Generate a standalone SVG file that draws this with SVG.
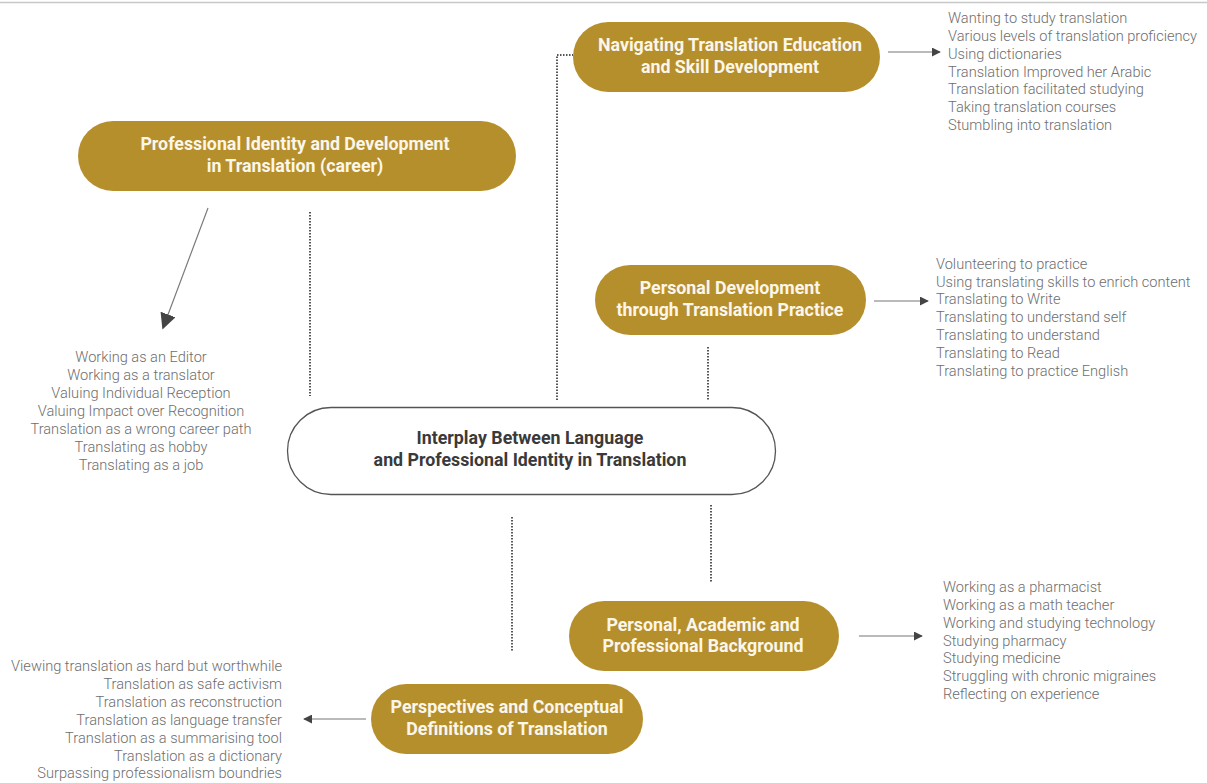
<svg xmlns="http://www.w3.org/2000/svg" width="1207" height="783" viewBox="0 0 1207 783">
<style>
.pill{fill:#b68f2d}
.pt{font-family:Roboto,"Liberation Sans",sans-serif;font-weight:bold;font-size:17.8px;fill:#fbf6ea;text-anchor:middle}
.ct{font-family:Roboto,"Liberation Sans",sans-serif;font-weight:bold;font-size:17.8px;fill:#3a3a3a;text-anchor:middle}
.lst{font-family:Roboto,"Liberation Sans",sans-serif;font-weight:300;font-size:14.6px;fill:#6e6e6e}
.dot{stroke:#555;stroke-width:2;stroke-dasharray:1.5 1.5;fill:none}
.arr{stroke:#777;stroke-width:1.2;fill:none;marker-end:url(#ah)}
</style>
<defs>
<marker id="ah" viewBox="0 0 10 10" refX="9" refY="5" markerWidth="9" markerHeight="9" markerUnits="userSpaceOnUse" orient="auto">
<path d="M0,0 L10,5 L0,10 z" fill="#444"/>
</marker>
<marker id="ahb" viewBox="0 0 10 10" refX="9" refY="5" markerWidth="16" markerHeight="16" markerUnits="userSpaceOnUse" orient="auto">
<path d="M0,0 L10,5 L0,10 z" fill="#444"/>
</marker>
</defs>
<rect width="1207" height="783" fill="#fff"/>
<line x1="0" y1="2.5" x2="1207" y2="2.5" stroke="#c8c8c8" stroke-width="1.5"/>
<g id="connectors">
<polyline class="dot" points="557,400 557,55 573,55"/>
<line class="dot" x1="310" y1="212" x2="310" y2="396"/>
<line class="dot" x1="708" y1="347" x2="708" y2="400"/>
<line class="dot" x1="512" y1="517" x2="512" y2="652"/>
<line class="dot" x1="711" y1="505" x2="711" y2="583"/>
<line x1="208" y1="208" x2="163" y2="328" stroke="#777" stroke-width="1.2" marker-end="url(#ahb)"/>
<line class="arr" x1="888" y1="52" x2="940" y2="52"/>
<line class="arr" x1="874" y1="301" x2="928" y2="301"/>
<line class="arr" x1="859" y1="636" x2="922" y2="636"/>
<line class="arr" x1="366" y1="719" x2="304" y2="719"/>
</g>
<g id="node-navigating">
<rect class="pill" x="573" y="22" width="307" height="70" rx="35"/>
<text class="pt" x="730" y="51">Navigating Translation Education</text>
<text class="pt" x="730" y="73">and Skill Development</text>
</g>
<g id="node-professional">
<rect class="pill" x="78" y="121" width="438" height="70" rx="35"/>
<text class="pt" x="295" y="150">Professional Identity and Development</text>
<text class="pt" x="295" y="172">in Translation (career)</text>
</g>
<g id="node-personal-dev">
<rect class="pill" x="595" y="265" width="271" height="70" rx="35"/>
<text class="pt" x="730" y="294">Personal Development</text>
<text class="pt" x="730" y="316">through Translation Practice</text>
</g>
<g id="node-central">
<rect x="287.5" y="407.5" width="488" height="87" rx="43.5" fill="#fff" stroke="#555" stroke-width="1.3"/>
<text class="ct" x="530" y="444">Interplay Between Language</text>
<text class="ct" x="530" y="466">and Professional Identity in Translation</text>
</g>
<g id="node-background">
<rect class="pill" x="569" y="601" width="270" height="70" rx="35"/>
<text class="pt" x="703" y="631">Personal, Academic and</text>
<text class="pt" x="703" y="652">Professional Background</text>
</g>
<g id="node-perspectives">
<rect class="pill" x="371" y="684" width="272" height="70" rx="35"/>
<text class="pt" x="507" y="713">Perspectives and Conceptual</text>
<text class="pt" x="507" y="735">Definitions of Translation</text>
</g>
<g id="list-navigating" class="lst">
<text x="948" y="23">Wanting to study translation</text>
<text x="948" y="41">Various levels of translation proficiency</text>
<text x="948" y="59">Using dictionaries</text>
<text x="948" y="77">Translation Improved her Arabic</text>
<text x="948" y="94">Translation facilitated studying</text>
<text x="948" y="112">Taking translation courses</text>
<text x="948" y="130">Stumbling into translation</text>
</g>
<g id="list-personal-dev" class="lst">
<text x="936" y="269">Volunteering to practice</text>
<text x="936" y="287">Using translating skills to enrich content</text>
<text x="936" y="304">Translating to Write</text>
<text x="936" y="322">Translating to understand self</text>
<text x="936" y="340">Translating to understand</text>
<text x="936" y="358">Translating to Read</text>
<text x="936" y="376">Translating to practice English</text>
</g>
<g id="list-professional" class="lst" text-anchor="middle">
<text x="141" y="362">Working as an Editor</text>
<text x="141" y="380">Working as a translator</text>
<text x="141" y="398">Valuing Individual Reception</text>
<text x="141" y="416">Valuing Impact over Recognition</text>
<text x="141" y="434">Translation as a wrong career path</text>
<text x="141" y="452">Translating as hobby</text>
<text x="141" y="470">Translating as a job</text>
</g>
<g id="list-background" class="lst">
<text x="943" y="592">Working as a pharmacist</text>
<text x="943" y="610">Working as a math teacher</text>
<text x="943" y="628">Working and studying technology</text>
<text x="943" y="646">Studying pharmacy</text>
<text x="943" y="663">Studying medicine</text>
<text x="943" y="681">Struggling with chronic migraines</text>
<text x="943" y="699">Reflecting on experience</text>
</g>
<g id="list-perspectives" class="lst" text-anchor="end">
<text x="282" y="671">Viewing translation as hard but worthwhile</text>
<text x="282" y="689">Translation as safe activism</text>
<text x="282" y="707">Translation as reconstruction</text>
<text x="282" y="725">Translation as language transfer</text>
<text x="282" y="743">Translation as a summarising tool</text>
<text x="282" y="761">Translation as a dictionary</text>
<text x="282" y="778">Surpassing professionalism boundries</text>
</g>
</svg>
